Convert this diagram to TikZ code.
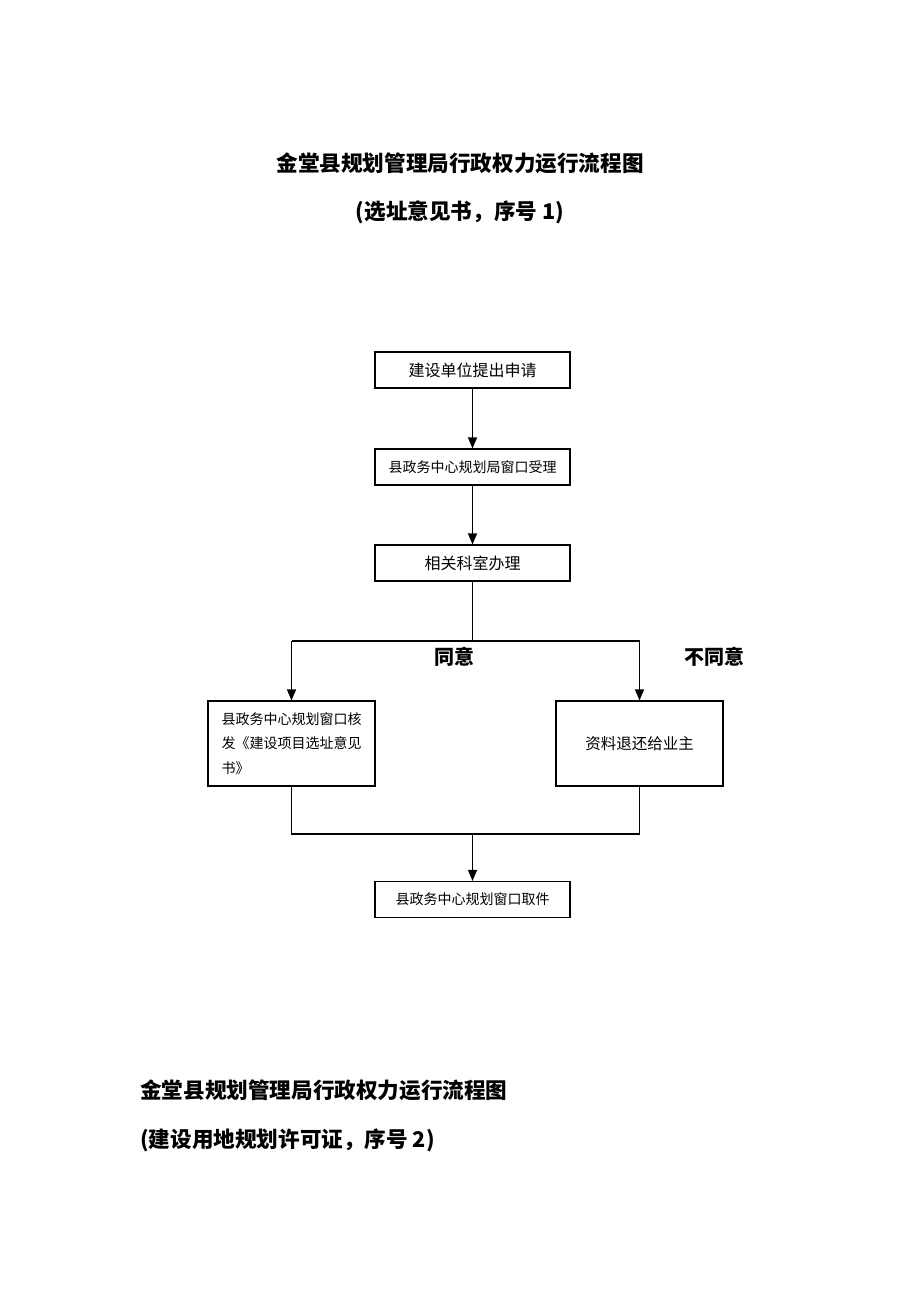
\documentclass[tikz,border=0pt]{standalone}
\usepackage{fontspec}
\setmainfont{Noto Sans CJK SC}
\usetikzlibrary{arrows.meta}
\tikzset{
  x=1pt, y=-1pt,
  box/.style={draw, line width=1.1pt, rectangle, minimum width=195pt, minimum height=36pt, inner sep=0pt, font=\fontsize{14}{16}\selectfont},
  bigbox/.style={draw, line width=1.1pt, rectangle, minimum width=167pt, minimum height=85pt, inner sep=0pt},
  conn/.style={line width=1.1pt},
  arr/.style={line width=1.1pt, -{Triangle[length=11pt,width=9pt]}},
  title/.style={font=\bfseries\fontsize{21.6}{24}\selectfont, inner sep=0pt},
  lab/.style={font=\bfseries\fontsize{20}{22}\selectfont, inner sep=0pt}
}
\begin{document}
\begin{tikzpicture}
\useasboundingbox[fill=white] (0,0) rectangle (920,1302);
\node[title] (t1) at (460,163) {金堂县规划管理局行政权力运行流程图};
\node[title] (s1) at (460,212) {(选址意见书，序号 1)};

\node[box, font=\fontsize{16}{18}\selectfont] (b1) at (472.5,370) {建设单位提出申请};
\node[box] (b2) at (472.5,467) {县政务中心规划局窗口受理};
\node[box, font=\fontsize{16}{18}\selectfont] (b3) at (472.5,563) {相关科室办理};

\node[bigbox, text width=140pt, align=left, font=\fontsize{14}{24.5}\selectfont] (bl) at (291.5,743.5) {县政务中心规划窗口核\\发《建设项目选址意见\\书》};
\node[bigbox, font=\fontsize{15.5}{18}\selectfont] (br) at (639.5,743.5) {资料退还给业主};
\node[box] (b4) at (472.5,899.5) {县政务中心规划窗口取件};

\coordinate (split) at (472.5,641);
\coordinate (sl) at (291.5,641);
\coordinate (sr) at (639.5,641);
\coordinate (jl) at (291.5,834);
\coordinate (jr) at (639.5,834);
\coordinate (jm) at (472.5,834);

\draw[arr] (b1.south) -- (b2.north);
\draw[arr] (b2.south) -- (b3.north);
\draw[conn] (b3.south) -- (split);
\draw[conn] (sl) -- (sr);
\draw[arr] (sl) -- (bl.north);
\draw[arr] (sr) -- (br.north);
\draw[conn] (bl.south) -- (jl) -- (jr) -- (br.south);
\draw[arr] (jm) -- (b4.north);

\node[lab] (l1) at (454,657) {同意};
\node[lab] (l2) at (714,657) {不同意};

\node[title, anchor=west] (t2) at (140,1090) {金堂县规划管理局行政权力运行流程图};
\node[title, anchor=west] (s2) at (140,1140) {(建设用地规划许可证，序号 2)};
\end{tikzpicture}
\end{document}
